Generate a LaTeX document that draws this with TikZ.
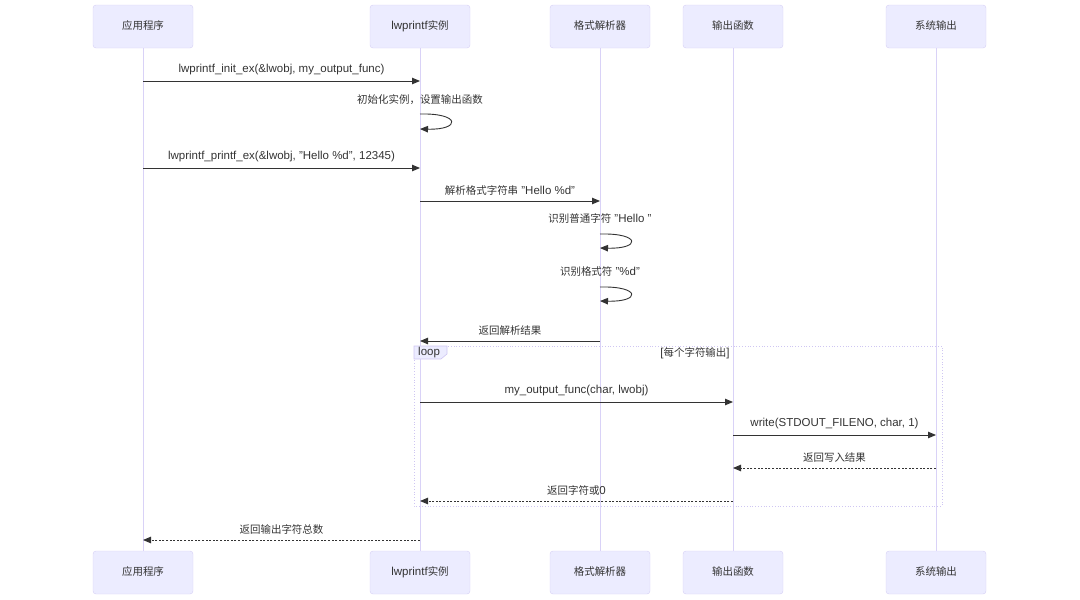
\documentclass[tikz,border=0pt]{standalone}
\usepackage{fontspec}
\setmainfont{Liberation Sans}
\newfontfamily\cjk[Scale=0.91]{Noto Sans CJK SC}
\usepackage{xcolor}
\usepackage{tikz}
\usetikzlibrary{arrows.meta,calc,positioning}
\definecolor{actorfill}{HTML}{ECECFF}
\definecolor{actorline}{HTML}{D6CFF5}
\definecolor{lifeline}{HTML}{D9D2F7}
\definecolor{msgdark}{HTML}{333333}
\definecolor{framepurple}{HTML}{CFC6F2}

\begin{document}
\begin{tikzpicture}[
      x=1pt, y=-1pt,
      font=\fontsize{11.5}{13}\selectfont, text=msgdark,
      actor/.style={draw=actorline, fill=actorfill, rounded corners=3pt,
        minimum width=100pt, minimum height=43pt, inner sep=2pt,
        text height=8.5pt, text depth=2pt},
      life/.style={draw=lifeline, line width=0.9pt},
      msg/.style={-{Triangle[length=8pt, width=6.5pt]}, draw=msgdark, line width=0.9pt},
      reply/.style={msg, dash pattern=on 2pt off 1.6pt},
      lbl/.style={inner sep=1pt, above=4.5pt},
      frame/.style={draw=framepurple, dotted, line width=0.8pt}
    ]
    \useasboundingbox (0,0) rectangle (1080,600);

    % participants, top row and bottom row
    \node[actor] (app)    at (143,26.5) {\cjk 应用程序};
    \node[actor] (inst)   at (420,26.5) {lwprintf{\cjk 实例}};
    \node[actor] (parser) at (600,26.5) {\cjk 格式解析器};
    \node[actor] (out)    at (733,26.5) {\cjk 输出函数};
    \node[actor] (sys)    at (936,26.5) {\cjk 系统输出};

    \node[actor] (app2)    at (143,572.5) {\cjk 应用程序};
    \node[actor] (inst2)   at (420,572.5) {lwprintf{\cjk 实例}};
    \node[actor] (parser2) at (600,572.5) {\cjk 格式解析器};
    \node[actor] (out2)    at (733,572.5) {\cjk 输出函数};
    \node[actor] (sys2)    at (936,572.5) {\cjk 系统输出};

    \foreach \a in {app,inst,parser,out,sys}
      \draw[life] (\a.south) -- (\a2.north);

    % message rows
    \coordinate (r1) at (0,81);
    \coordinate (s1a) at (0,114);  \coordinate (s1b) at (0,129);
    \coordinate (r2) at (0,168);
    \coordinate (r3) at (0,201);
    \coordinate (s2a) at (0,234);  \coordinate (s2b) at (0,248);
    \coordinate (s3a) at (0,287);  \coordinate (s3b) at (0,301);
    \coordinate (r4) at (0,341);
    \coordinate (r5) at (0,402);
    \coordinate (r6) at (0,435);
    \coordinate (r7) at (0,468);
    \coordinate (r8) at (0,501);
    \coordinate (r9) at (0,540);

    % loop frame
    \draw[frame] (414,346) rectangle (942,506);
    \draw[draw=framepurple, fill=actorfill, line width=0.6pt]
      (414,346) -- (447,346) -- (447,354) -- (441,359) -- (414,359) -- cycle;
    \node[anchor=west, inner sep=0pt] (looptag) at (418,353) {loop};
    \node[inner sep=0pt] (loopcond) at (695,353) {[{\cjk 每个字符输出}]};

    \draw[msg] (app |- r1) -- node[lbl] {lwprintf\_init\_ex(\&lwobj, my\_output\_func)} (inst |- r1);
    \node[inner sep=1pt] (note1) at (420,100) {\cjk 初始化实例，设置输出函数};
    \draw[msg] (inst |- s1a) .. controls +(41,-1) and +(41,1) .. (inst |- s1b);

    \draw[msg] (app |- r2) -- node[lbl] {lwprintf\_printf\_ex(\&lwobj, "Hello \%d", 12345)} (inst |- r2);
    \draw[msg] (inst |- r3) -- node[lbl] {{\cjk 解析格式字符串} "Hello \%d"} (parser |- r3);

    \node[inner sep=1pt] (note2) at (600,219) {{\cjk 识别普通字符} "Hello "};
    \draw[msg] (parser |- s2a) .. controls +(41,-1) and +(41,1) .. (parser |- s2b);
    \node[inner sep=1pt] (note3) at (600,272) {{\cjk 识别格式符} "\%d"};
    \draw[msg] (parser |- s3a) .. controls +(41,-1) and +(41,1) .. (parser |- s3b);

    \draw[msg] (parser |- r4) -- node[lbl] {\cjk 返回解析结果} (inst |- r4);

    \draw[msg] (inst |- r5) -- node[lbl] {my\_output\_func(char, lwobj)} (out |- r5);
    \draw[msg] (out |- r6) -- node[lbl] {write(STDOUT\_FILENO, char, 1)} (sys |- r6);
    \draw[reply] (sys |- r7) -- node[lbl] {\cjk 返回写入结果} (out |- r7);
    \draw[reply] (out |- r8) -- node[lbl] {{\cjk 返回字符或}0} (inst |- r8);

    \draw[reply] (inst |- r9) -- node[lbl] {\cjk 返回输出字符总数} (app |- r9);
  \end{tikzpicture}
\end{document}
